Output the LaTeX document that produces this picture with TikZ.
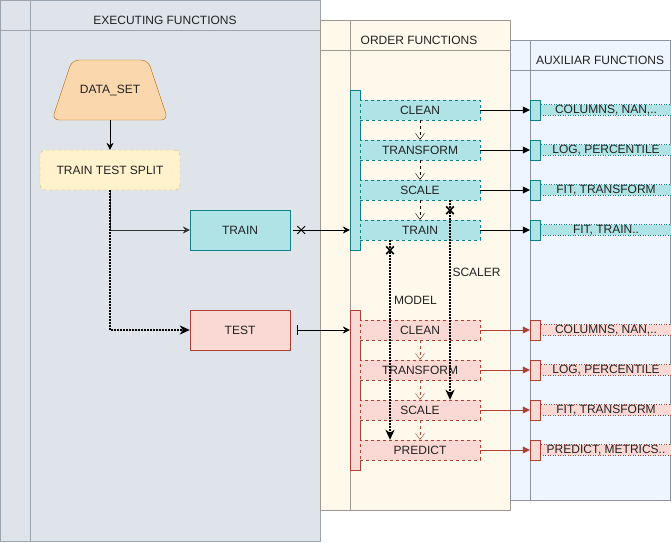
\documentclass[tikz,border=0pt]{standalone}
\usepackage{fontspec}
\setmainfont{Liberation Sans}
\usetikzlibrary{arrows.meta,shapes.misc}

\definecolor{exfill}{HTML}{DFE4EA}
\definecolor{exline}{HTML}{9AA4AE}
\definecolor{orfill}{HTML}{FFF9EC}
\definecolor{orline}{HTML}{A39793}
\definecolor{auxfill}{HTML}{EEF5FF}
\definecolor{auxline}{HTML}{8F959C}
\definecolor{tealfill}{HTML}{B0E3E6}
\definecolor{tealline}{HTML}{0E8088}
\definecolor{redfill}{HTML}{FAD9D5}
\definecolor{redline}{HTML}{AE4132}
\definecolor{orgfill}{HTML}{FAD7AC}
\definecolor{orgline}{HTML}{B46504}
\definecolor{ylwfill}{HTML}{FFF2CC}
\definecolor{ylwline}{HTML}{D6B656}
\definecolor{txt}{HTML}{222222}

\tikzset{
  box/.style={draw, minimum width=100pt, minimum height=40pt, inner sep=0pt},
  act/.style={draw, dash pattern=on 3pt off 3pt, minimum width=120pt, minimum height=20pt, inner sep=0pt},
  bar/.style={draw, minimum width=10pt, inner sep=0pt},
  auxbox/.style={draw, dash pattern=on 1pt off 1.5pt, minimum width=132pt, inner xsep=0pt, inner ysep=0pt, text height=8.4pt, text depth=2.3pt},
  flow/.style={-{Stealth[length=7pt,width=7pt,inset=2.5pt]}},
  dotarrow/.style={line width=2pt, dash pattern=on 1.5pt off 1.5pt, -{Stealth[length=10pt,width=9pt,inset=3pt]}},
  chainarrow/.style={dash pattern=on 3pt off 3pt, -{Straight Barb[length=6pt,width=9pt]}},
  block/.style={-{Triangle[length=7pt,width=7pt]}},
  xmark/.style={cross out, draw, solid, minimum size=7pt, inner sep=0pt}
}

\begin{document}
\begin{tikzpicture}[x=1pt,y=-1pt,font=\fontsize{12}{14}\selectfont,text=txt]
  \useasboundingbox (0,0) rectangle (671,542);
  % lanes
  \draw[exline,fill=exfill] (0.5,0.5) rectangle (320,541.5);
  \draw[exline] (0.5,30) -- (320,30) (30,0.5) -- (30,541.5);
  \node (exhead) at (165,20) {EXECUTING FUNCTIONS};
  \draw[orline,fill=orfill] (320,20) rectangle (510,510);
  \draw[orline] (320,50) -- (510,50) (350,20) -- (350,510);
  \node (orhead) at (419,40) {ORDER FUNCTIONS};
  \draw[auxline,fill=auxfill] (510,40) rectangle (670,500);
  \draw[auxline] (510,70) -- (670,70) (530,40) -- (530,500);
  \node (auxhead) at (600,60) {AUXILIAR FUNCTIONS};

  % executing side
  \draw[orgline, fill=orgfill, rounded corners=7pt] (52,120) -- (72,60) -- (148,60) -- (168,120) -- cycle;
  \node[minimum width=116pt, minimum height=60pt] (data) at (110,90) {DATA\_SET};
  \node[draw=ylwline, fill=ylwfill, dash pattern=on 3pt off 3pt, rounded corners=5pt,
        minimum width=140pt, minimum height=40pt] (split) at (110,170) {TRAIN TEST SPLIT};
  \node[box, draw=tealline, fill=tealfill] (train) at (240,230) {TRAIN};
  \node[box, draw=redline, fill=redfill] (test) at (240,330) {TEST};
  \draw[flow] (data) -- (split);
  \draw[flow, black!80] (split.south) |- (train.west);
  \draw[dotarrow] (split.south) |- (test.west);

  % order lanes
  \node[bar, draw=tealline, fill=tealfill, minimum height=160pt] (tealbar) at (355,170) {};
  \node[bar, draw=redline, fill=redfill, minimum height=160pt] (redbar) at (355,390) {};
  \node[xmark, line width=0.8pt] (trainx) at ([xshift=11pt]train.east) {};
  \coordinate (testtick) at ([xshift=7pt]test.east);
  \draw[flow, shorten <=3pt] (train.east) -- (train.east -| tealbar.west);
  \draw[flow] (testtick) -- (testtick -| redbar.west);
  \draw ([yshift=5pt]testtick) -- ([yshift=-5pt]testtick);

  \foreach \n/\t/\y in {clean/CLEAN/110, trans/TRANSFORM/150, scale/SCALE/190, train/TRAIN/230}
    \node[act, draw=tealline, fill=tealfill] (t\n) at (420,\y) {\t};
  \foreach \n/\t/\y in {clean/CLEAN/330, trans/TRANSFORM/370, scale/SCALE/410, pred/PREDICT/450}
    \node[act, draw=redline, fill=redfill] (r\n) at (420,\y) {\t};
  \foreach \a/\b in {tclean/ttrans, ttrans/tscale, tscale/ttrain}
    \draw[chainarrow] (\a) -- (\b);
  \foreach \a/\b in {rclean/rtrans, rtrans/rscale, rscale/rpred}
    \draw[chainarrow, redline] (\a) -- (\b);

  % values passed to the test run
  \draw[dotarrow] ([xshift=30pt]tscale.south) -- node[right, pos=0.36, inner sep=1.5pt] {SCALER} ([xshift=30pt]rscale.north);
  \draw[dotarrow] ([xshift=-30pt]ttrain.south) -- node[right, pos=0.3, inner sep=3pt] {MODEL} ([xshift=-30pt]rpred.north);
  \node[xmark, line width=1.6pt, minimum size=6pt] (scalerx) at ([xshift=30pt,yshift=-10pt]tscale.south) {};
  \node[xmark, line width=1.6pt, minimum size=6pt] (modelx) at ([xshift=-30pt,yshift=-10pt]ttrain.south) {};

  % auxiliar functions
  \foreach \n/\t/\y in {clean/{COLUMNS, NAN,..}/110, trans/{LOG, PERCENTILE}/150, scale/{FIT, TRANSFORM}/190, train/{FIT, TRAIN..}/230}
  {
    \node[auxbox, draw=tealline, fill=tealfill] (tb\n) at (606,\y) {\t};
    \node[bar, draw=tealline, fill=tealfill, minimum height=20pt] (ta\n) at (535,\y) {};
    \draw[block] (t\n) -- (ta\n);
  }
  \foreach \n/\t/\y in {clean/{COLUMNS, NAN,..}/330, trans/{LOG, PERCENTILE}/370, scale/{FIT, TRANSFORM}/410, pred/{PREDICT, METRICS..}/450}
  {
    \node[auxbox, draw=redline, fill=redfill] (rb\n) at (606,\y) {\t};
    \node[bar, draw=redline, fill=redfill, minimum height=20pt] (ra\n) at (535,\y) {};
    \draw[block, redline] (r\n) -- (ra\n);
  }
\end{tikzpicture}
\end{document}
